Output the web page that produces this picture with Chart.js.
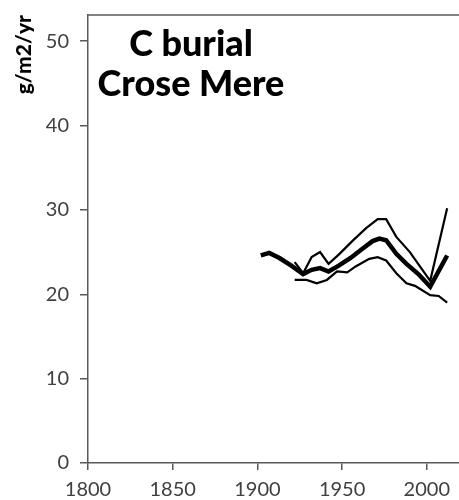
<!DOCTYPE html>
<html>
<head>
<meta charset="utf-8">
<script src="https://cdn.jsdelivr.net/npm/chart.js@4"></script>
<style>
  html, body { margin: 0; padding: 0; background: #fff; }
  #burial-chart { display: block; }
</style>
</head>
<body>
<canvas id="burial-chart" width="459" height="500"></canvas>
<script>
// core-based estimate and its upper/lower bounds (g/m2/yr)
const midYears = [1902, 1907, 1913, 1920, 1927, 1932, 1937, 1942, 1948, 1955, 1962, 1968, 1972, 1976, 1982, 1988, 1995, 2002, 2012];
const midValues = [24.6, 24.9, 24.3, 23.4, 22.4, 22.9, 23.1, 22.7, 23.4, 24.3, 25.4, 26.3, 26.6, 26.4, 24.8, 23.6, 22.4, 20.9, 24.6];

const upperYears = [1922, 1927, 1932, 1937, 1942, 1948, 1956, 1964, 1971, 1976, 1982, 1990, 2002, 2012];
const upperValues = [23.8, 22.5, 24.4, 25.0, 23.6, 24.7, 26.3, 27.8, 28.9, 28.9, 26.8, 25.0, 21.6, 30.2];

const lowerYears = [1922, 1929, 1935, 1941, 1947, 1953, 1958, 1966, 1971, 1976, 1982, 1988, 1993, 2002, 2007, 2012];
const lowerValues = [21.7, 21.7, 21.3, 21.7, 22.7, 22.6, 23.3, 24.2, 24.4, 24.0, 22.5, 21.3, 21.0, 19.9, 19.8, 19.0];

const xTicks = [1800, 1850, 1900, 1950, 2000];
const yTicks = [0, 10, 20, 30, 40, 50];
const titleLines = ["C burial", "Crose Mere"];

const AXIS_COLOR = "#595959";
const LABEL_COLOR = "#404040";

function toPoints(xs, ys) {
  return xs.map((x, i) => ({ x, y: ys[i] }));
}

function lineSet(label, xs, ys, width) {
  return {
    label,
    data: toPoints(xs, ys),
    borderColor: "#000",
    borderWidth: width,
    pointRadius: 0,
    tension: 0,
    fill: false,
  };
}

// frame line along the top of the plot and the title inside it
const plotDecor = {
  id: "plotDecor",
  afterDraw(chart) {
    const { ctx, chartArea } = chart;
    ctx.save();
    ctx.strokeStyle = AXIS_COLOR;
    ctx.lineWidth = 1.5;
    ctx.beginPath();
    ctx.moveTo(chartArea.left, chartArea.top);
    ctx.lineTo(chartArea.right, chartArea.top);
    ctx.stroke();

    ctx.fillStyle = "#000";
    ctx.font = "900 36px Lato";
    ctx.textAlign = "center";
    ctx.textBaseline = "alphabetic";
    ctx.fillText(titleLines[0], 191, 56);
    ctx.fillText(titleLines[1], 191, 96);
    ctx.restore();
  },
};

new Chart(document.getElementById("burial-chart"), {
  type: "line",
  data: {
    datasets: [
      lineSet("estimate", midYears, midValues, 4.5),
      lineSet("upper", upperYears, upperValues, 2.2),
      lineSet("lower", lowerYears, lowerValues, 2.2),
    ],
  },
  options: {
    responsive: false,
    animation: false,
    layout: { padding: { top: 15, right: 0, left: 0, bottom: 0 } },
    plugins: { legend: { display: false }, tooltip: { enabled: false } },
    scales: {
      x: {
        type: "linear",
        min: 1800,
        max: 2019,
        afterBuildTicks: (axis) => { axis.ticks = xTicks.map((v) => ({ value: v })); },
        afterFit: (axis) => { axis.height = 37; axis.paddingLeft = 0; axis.paddingRight = 0; },
        grid: { drawOnChartArea: false, tickLength: 7, color: AXIS_COLOR, lineWidth: 1.5 },
        border: { color: AXIS_COLOR, width: 1.5 },
        ticks: {
          color: LABEL_COLOR,
          font: { family: "Lato", size: 20 },
          padding: 8,
          maxRotation: 0,
          callback: (v) => String(v),
        },
      },
      y: {
        min: 0,
        max: 53.1,
        afterBuildTicks: (axis) => { axis.ticks = yTicks.map((v) => ({ value: v })); },
        afterFit: (axis) => { axis.width = 88; axis.paddingTop = 0; axis.paddingBottom = 0; },
        grid: { drawOnChartArea: false, tickLength: 8, color: AXIS_COLOR, lineWidth: 1.5 },
        border: { color: AXIS_COLOR, width: 1.5 },
        ticks: { color: LABEL_COLOR, font: { family: "Lato", size: 20 }, padding: 11 },
        title: {
          display: true,
          text: "g/m2/yr",
          align: "end",
          color: "#000",
          font: { family: "Lato", size: 21, weight: "900" },
          padding: { top: 12, bottom: 0 },
        },
      },
    },
  },
  plugins: [plotDecor],
});
</script>
</body>
</html>
